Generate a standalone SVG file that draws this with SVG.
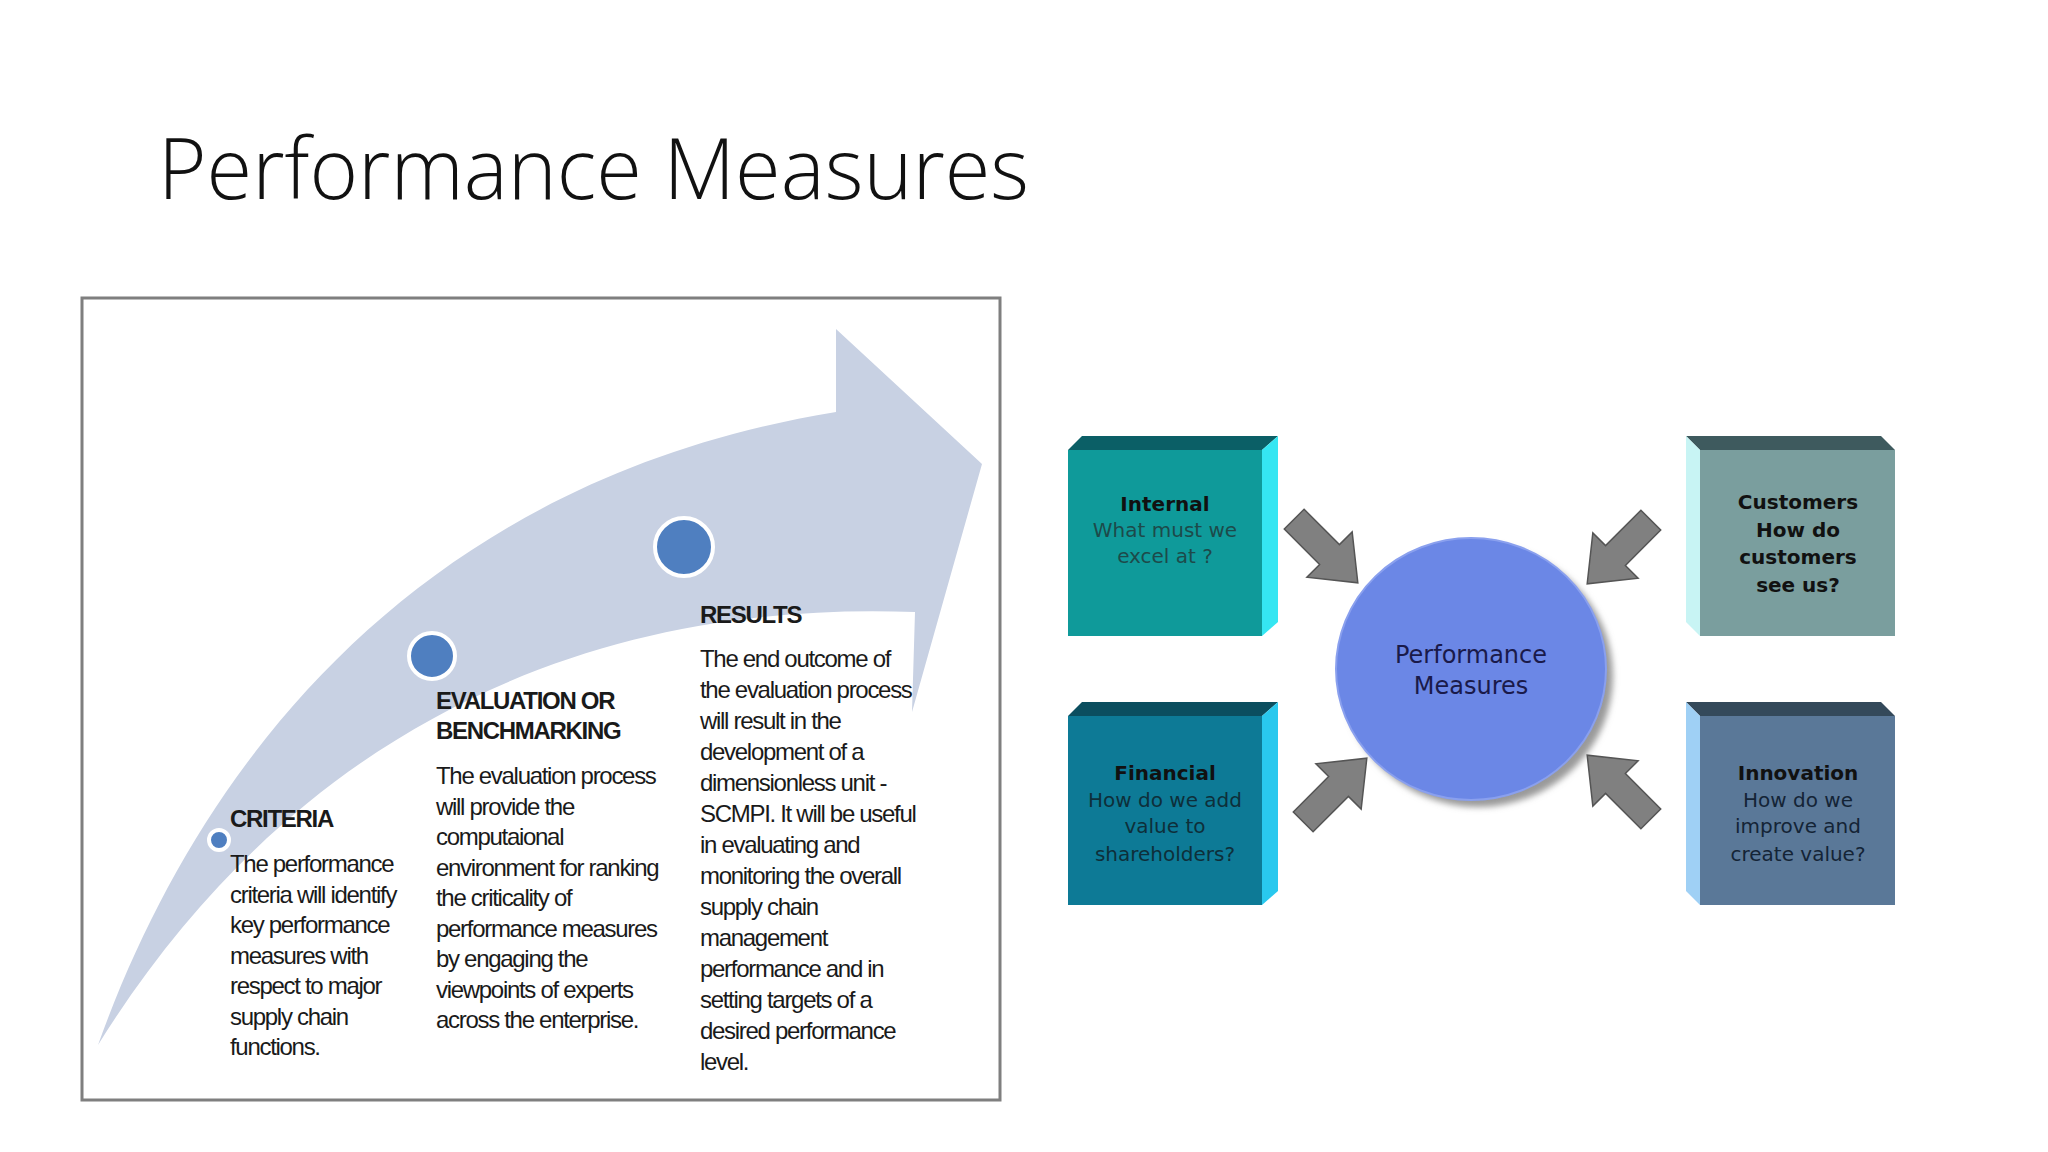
<svg xmlns="http://www.w3.org/2000/svg" width="2048" height="1152" viewBox="0 0 2048 1152">
<style>
.t{font-family:"Liberation Sans",Arial,sans-serif;font-size:24px;fill:#1a1a1a;letter-spacing:-1.3px}
.h{font-family:"Liberation Sans",Arial,sans-serif;font-size:24px;font-weight:bold;fill:#1a1a1a;letter-spacing:-1.3px}
.bx{font-family:"DejaVu Sans",Verdana,sans-serif;font-size:20px;text-anchor:middle}
.bb{font-weight:bold;fill:#111}
.dot{fill:#4f7fc0;stroke:#fff;stroke-width:4}
.ar{fill:#808080;stroke:#555;stroke-width:1.5}
</style>
<defs>
<polygon id="arr" points="-45,-14 5,-14 5,-32 45,0 5,32 5,14 -45,14"/>
<filter id="sh"><feGaussianBlur stdDeviation="3"/></filter>
</defs>
<rect width="2048" height="1152" fill="#fff"/>
<text x="158" y="199" font-family="Open Sans, Liberation Sans, sans-serif" font-weight="300" font-size="84" fill="#111" textLength="871" lengthAdjust="spacingAndGlyphs">Performance Measures</text>

<g id="process">
<rect x="82" y="298" width="918" height="802" fill="#fff" stroke="#7f7f7f" stroke-width="3"/>
<path d="M98,1045 C200,760 420,480 836,412 L836,329 L982,464 L912,712 L915,612 C600,600 300,720 98,1045 Z" fill="#c8d1e3"/>
<circle class="dot" cx="219" cy="840" r="10"/>
<circle class="dot" cx="432" cy="656" r="23"/>
<circle class="dot" cx="684" cy="547" r="29"/>
</g>
<g id="criteria">
<text class="h" x="230" y="827">CRITERIA</text>
<text class="t" x="230" y="872">The performance</text>
<text class="t" x="230" y="903">criteria will identify</text>
<text class="t" x="230" y="933">key performance</text>
<text class="t" x="230" y="964">measures with</text>
<text class="t" x="230" y="994">respect to major</text>
<text class="t" x="230" y="1025">supply chain</text>
<text class="t" x="230" y="1055">functions.</text>
</g>
<g id="evaluation">
<text class="h" x="436" y="709">EVALUATION OR</text>
<text class="h" x="436" y="739">BENCHMARKING</text>
<text class="t" x="436" y="784">The evaluation process</text>
<text class="t" x="436" y="815">will provide the</text>
<text class="t" x="436" y="845">computaional</text>
<text class="t" x="436" y="876">environment for ranking</text>
<text class="t" x="436" y="906">the criticality of</text>
<text class="t" x="436" y="937">performance measures</text>
<text class="t" x="436" y="967">by engaging the</text>
<text class="t" x="436" y="998">viewpoints of experts</text>
<text class="t" x="436" y="1028">across the enterprise.</text>
</g>
<g id="results">
<text class="h" x="700" y="623">RESULTS</text>
<text class="t" x="700" y="667">The end outcome of</text>
<text class="t" x="700" y="698">the evaluation process</text>
<text class="t" x="700" y="729">will result in the</text>
<text class="t" x="700" y="760">development of a</text>
<text class="t" x="700" y="791">dimensionless unit -</text>
<text class="t" x="700" y="822">SCMPI. It will be useful</text>
<text class="t" x="700" y="853">in evaluating and</text>
<text class="t" x="700" y="884">monitoring the overall</text>
<text class="t" x="700" y="915">supply chain</text>
<text class="t" x="700" y="946">management</text>
<text class="t" x="700" y="977">performance and in</text>
<text class="t" x="700" y="1008">setting targets of a</text>
<text class="t" x="700" y="1039">desired performance</text>
<text class="t" x="700" y="1070">level.</text>
</g>

<g id="internal">
<rect x="1068" y="450" width="194" height="186" fill="#0f9a9a"/>
<polygon points="1068,450 1082,436 1278,436 1262,450" fill="#0b5f66"/>
<polygon points="1262,450 1278,436 1278,622 1262,636" fill="#35e6f2"/>
<text class="bx bb" x="1165" y="511">Internal</text>
<text class="bx" x="1165" y="537" fill="#1d4a4a">What must we</text>
<text class="bx" x="1165" y="563" fill="#1d4a4a">excel at ?</text>
</g>
<g id="customers">
<rect x="1700" y="450" width="195" height="186" fill="#7a9e9e"/>
<polygon points="1686,436 1881,436 1895,450 1700,450" fill="#3e5a5e"/>
<polygon points="1686,436 1700,450 1700,636 1686,622" fill="#c8f4f4"/>
<text class="bx bb" x="1798" y="509">Customers</text>
<text class="bx bb" x="1798" y="537">How do</text>
<text class="bx bb" x="1798" y="564">customers</text>
<text class="bx bb" x="1798" y="592">see us?</text>
</g>
<g id="financial">
<rect x="1068" y="716" width="194" height="189" fill="#0d7a96"/>
<polygon points="1068,716 1082,702 1278,702 1262,716" fill="#0b4e5f"/>
<polygon points="1262,716 1278,702 1278,891 1262,905" fill="#29c8ee"/>
<text class="bx bb" x="1165" y="780">Financial</text>
<text class="bx" x="1165" y="807" fill="#0e2f3a">How do we add</text>
<text class="bx" x="1165" y="833" fill="#0e2f3a">value to</text>
<text class="bx" x="1165" y="861" fill="#0e2f3a">shareholders?</text>
</g>
<g id="innovation">
<rect x="1700" y="716" width="195" height="189" fill="#5a7898"/>
<polygon points="1686,702 1881,702 1895,716 1700,716" fill="#34495a"/>
<polygon points="1686,702 1700,716 1700,905 1686,891" fill="#9fd0f5"/>
<text class="bx bb" x="1798" y="780">Innovation</text>
<text class="bx" x="1798" y="807" fill="#142436">How do we</text>
<text class="bx" x="1798" y="833" fill="#142436">improve and</text>
<text class="bx" x="1798" y="861" fill="#142436">create value?</text>
</g>
<g id="center">
<ellipse cx="1478" cy="676" rx="135" ry="131" fill="#9a9a9a" filter="url(#sh)"/>
<ellipse cx="1471" cy="669" rx="135" ry="131" fill="#6b87e6" stroke="#8aa0ee" stroke-width="2"/>
<text x="1471" y="663" font-family="DejaVu Sans, sans-serif" font-size="24" fill="#1a1a4a" text-anchor="middle">Performance</text>
<text x="1471" y="694" font-family="DejaVu Sans, sans-serif" font-size="24" fill="#1a1a4a" text-anchor="middle">Measures</text>
</g>
<g id="connectors">
<use href="#arr" class="ar" transform="translate(1326,551) rotate(45)"/>
<use href="#arr" class="ar" transform="translate(1619,552) rotate(135)"/>
<use href="#arr" class="ar" transform="translate(1335,790) rotate(-45)"/>
<use href="#arr" class="ar" transform="translate(1619,787) rotate(-135)"/>
</g>
</svg>
